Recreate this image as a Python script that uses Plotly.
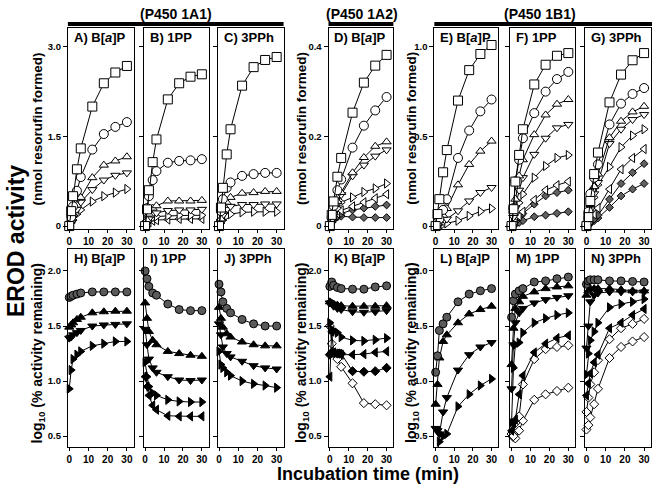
import plotly.graph_objects as go

# ---------------- data ----------------
T = [0, 1, 2, 4, 6, 12, 18, 24, 30]

A_sq = [0, 0.25, 0.5, 0.95, 1.3, 2.0, 2.39, 2.57, 2.68]
A_ci = [0, 0.15, 0.33, 0.59, 0.82, 1.28, 1.54, 1.66, 1.74]
A_up = [0, 0.1, 0.2, 0.35, 0.48, 0.81, 1.02, 1.09, 1.16]
A_dn = [0, 0.07, 0.15, 0.28, 0.4, 0.61, 0.77, 0.85, 0.89]
A_rt = [0, 0.05, 0.1, 0.2, 0.27, 0.41, 0.5, 0.56, 0.62]

B_sq = [0, 0.28, 0.6, 1.07, 1.45, 2.12, 2.39, 2.5, 2.54]
B_ci = [0, 0.3, 0.5, 0.77, 0.92, 1.06, 1.09, 1.1, 1.12]
B_up = [0, 0.1, 0.2, 0.3, 0.34, 0.42, 0.42, 0.42, 0.43]
B_dn = [0, 0.06, 0.12, 0.2, 0.22, 0.26, 0.27, 0.27, 0.28]
B_rt = [0, 0.05, 0.09, 0.14, 0.16, 0.17, 0.18, 0.18, 0.18]
B_lf = [0, 0.03, 0.06, 0.09, 0.1, 0.11, 0.12, 0.12, 0.12]

C_sq = [0, 0.31, 0.64, 1.2, 1.62, 2.35, 2.66, 2.78, 2.83]
C_ci = [0, 0.25, 0.45, 0.64, 0.73, 0.84, 0.87, 0.89, 0.89]
C_up = [0, 0.12, 0.25, 0.4, 0.48, 0.55, 0.56, 0.58, 0.58]
C_dn = [0, 0.08, 0.18, 0.28, 0.33, 0.36, 0.36, 0.37, 0.37]
C_rt = [0, 0.05, 0.1, 0.17, 0.2, 0.23, 0.24, 0.24, 0.24]

D_sq = [0, 0.025, 0.055, 0.11, 0.152, 0.253, 0.32, 0.358, 0.382]
D_ci = [0, 0.02, 0.045, 0.08, 0.104, 0.175, 0.224, 0.258, 0.288]
D_up = [0, 0.015, 0.03, 0.055, 0.075, 0.119, 0.153, 0.178, 0.188]
D_dn = [0, 0.013, 0.028, 0.05, 0.07, 0.112, 0.136, 0.156, 0.17]
D_rt = [0, 0.012, 0.025, 0.04, 0.053, 0.064, 0.076, 0.084, 0.095]
D_lf = [0, 0.01, 0.018, 0.028, 0.035, 0.044, 0.053, 0.062, 0.071]
D_d1 = [0, 0.008, 0.015, 0.022, 0.028, 0.036, 0.04, 0.044, 0.047]
D_d2 = [0, 0.008, 0.015, 0.02, 0.022, 0.02, 0.019, 0.019, 0.019]

E_sq = [0, 0.067, 0.15, 0.30, 0.424, 0.70, 0.87, 0.96, 1.01]
E_ci = [0, 0.02, 0.04, 0.09, 0.15, 0.38, 0.533, 0.64, 0.706]
E_up = [0, 0.015, 0.03, 0.06, 0.098, 0.23, 0.344, 0.418, 0.474]
E_dn = [0, 0.006, 0.012, 0.025, 0.039, 0.085, 0.14, 0.187, 0.215]
E_rt = [0, 0.003, 0.005, 0.01, 0.015, 0.03, 0.057, 0.082, 0.098]

F_sq = [0, 0.094, 0.248, 0.397, 0.54, 0.79, 0.9, 0.95, 0.965]
F_ci = [0, 0.1, 0.25, 0.37, 0.49, 0.63, 0.75, 0.82, 0.86]
F_up = [0, 0.07, 0.15, 0.28, 0.37, 0.51, 0.62, 0.68, 0.706]
F_dn = [0, 0.05, 0.1, 0.2, 0.27, 0.40, 0.49, 0.548, 0.567]
F_rt = [0, 0.03, 0.07, 0.13, 0.178, 0.27, 0.335, 0.38, 0.396]
F_lf = [0, 0.015, 0.03, 0.055, 0.08, 0.146, 0.2, 0.228, 0.248]
F_d1 = [0, 0.012, 0.025, 0.05, 0.07, 0.122, 0.168, 0.187, 0.2]
F_d2 = [0, 0.005, 0.01, 0.02, 0.03, 0.052, 0.061, 0.071, 0.08]

G_sq = [0, 0.05, 0.14, 0.29, 0.41, 0.69, 0.845, 0.925, 0.965]
G_ci = [0, 0.08, 0.18, 0.27, 0.344, 0.567, 0.683, 0.737, 0.77]
G_up = [0, 0.05, 0.12, 0.22, 0.29, 0.493, 0.585, 0.637, 0.668]
G_dn = [0, 0.04, 0.09, 0.18, 0.243, 0.46, 0.54, 0.594, 0.622]
G_rt = [0, 0.04, 0.08, 0.16, 0.23, 0.33, 0.44, 0.505, 0.54]
G_lf = [0, 0.015, 0.03, 0.065, 0.1, 0.206, 0.317, 0.38, 0.43]
G_d1 = [0, 0.01, 0.02, 0.04, 0.06, 0.15, 0.237, 0.298, 0.348]
G_d2 = [0, 0.008, 0.015, 0.03, 0.045, 0.104, 0.168, 0.206, 0.237]

H_ci = [1.76, 1.77, 1.78, 1.79, 1.80, 1.81, 1.81, 1.81, 1.81]
H_up = [1.49, 1.51, 1.53, 1.56, 1.58, 1.62, 1.63, 1.635, 1.635]
H_dn = [1.39, 1.40, 1.42, 1.44, 1.46, 1.50, 1.51, 1.515, 1.52]
H_rt = [0.93, 1.10, 1.20, 1.24, 1.27, 1.32, 1.34, 1.36, 1.36]

I_ci = [2.0, 1.93, 1.86, 1.80, 1.78, 1.70, 1.65, 1.64, 1.64]
I_up = [1.71, 1.57, 1.45, 1.37, 1.33, 1.27, 1.25, 1.235, 1.225]
I_dn = [1.47, 1.33, 1.20, 1.12, 1.08, 1.04, 1.01, 1.005, 1.01]
I_rt = [1.17, 1.04, 0.95, 0.89, 0.87, 0.83, 0.815, 0.81, 0.81]
I_lf = [1.04, 0.95, 0.87, 0.78, 0.74, 0.685, 0.68, 0.68, 0.68]

J_ci = [1.88, 1.81, 1.72, 1.66, 1.62, 1.56, 1.52, 1.50, 1.50]
J_up = [1.67, 1.57, 1.49, 1.43, 1.40, 1.355, 1.33, 1.32, 1.32]
J_dn = [1.52, 1.42, 1.31, 1.25, 1.22, 1.18, 1.14, 1.12, 1.11]
J_rt = [1.27, 1.15, 1.12, 1.08, 1.05, 1.00, 0.975, 0.96, 0.94]

K_ci = [1.86, 1.90, 1.87, 1.85, 1.84, 1.835, 1.835, 1.855, 1.865]
K_up = [1.72, 1.71, 1.70, 1.69, 1.685, 1.68, 1.68, 1.68, 1.685]
K_dn = [1.71, 1.70, 1.68, 1.66, 1.65, 1.63, 1.625, 1.63, 1.64]
K_rt = [1.53, 1.47, 1.45, 1.44, 1.40, 1.37, 1.365, 1.375, 1.39]
K_lf = [1.04, 1.45, 1.26, 1.25, 1.24, 1.24, 1.245, 1.26, 1.27]
K_df = [1.24, 1.26, 1.26, 1.25, 1.25, 1.09, 1.085, 1.09, 1.12]
K_do = [1.50, 1.34, 1.25, 1.20, 1.13, 0.98, 0.80, 0.79, 0.78]

L_ci = [1.08, 1.23, 1.46, 1.52, 1.58, 1.72, 1.79, 1.82, 1.84]
L_up = [0.79, 0.97, 1.21, 1.36, 1.42, 1.53, 1.61, 1.65, 1.68]
L_dn = [0.57, 0.55, 0.52, 0.72, 0.85, 1.10, 1.24, 1.31, 1.35]
L_rt = [0.30, 0.36, 0.45, 0.50, 0.52, 0.77, 0.88, 0.96, 1.02]

M_ci = [1.58, 1.73, 1.79, 1.82, 1.84, 1.90, 1.91, 1.93, 1.945]
M_up = [1.15, 1.48, 1.66, 1.72, 1.77, 1.81, 1.84, 1.855, 1.865]
M_dn = [0.93, 1.33, 1.53, 1.62, 1.66, 1.71, 1.74, 1.76, 1.775]
M_rt = [0.62, 1.12, 1.33, 1.35, 1.44, 1.53, 1.57, 1.60, 1.62]
M_lf = [0.55, 0.62, 0.65, 0.88, 1.05, 1.26, 1.34, 1.39, 1.415]
M_d1 = [0.52, 0.50, 0.62, 0.68, 0.97, 1.20, 1.29, 1.31, 1.325]
M_d2 = [0.52, 0.49, 0.48, 0.55, 0.64, 0.83, 0.88, 0.91, 0.94]

N_ci = [1.88, 1.91, 1.92, 1.92, 1.92, 1.91, 1.91, 1.905, 1.90]
N_up = [1.78, 1.82, 1.84, 1.84, 1.84, 1.84, 1.83, 1.82, 1.82]
N_dn = [1.30, 1.50, 1.72, 1.78, 1.80, 1.81, 1.81, 1.81, 1.81]
N_rt = [1.06, 1.25, 1.37, 1.45, 1.53, 1.67, 1.70, 1.72, 1.745]
N_lf = [0.87, 0.98, 1.07, 1.17, 1.24, 1.48, 1.53, 1.60, 1.655]
N_d1 = [0.72, 0.85, 0.97, 1.08, 1.19, 1.38, 1.48, 1.52, 1.565]
N_d2 = [0.56, 0.60, 0.67, 0.79, 0.93, 1.21, 1.31, 1.36, 1.40]

PANEL_LABELS = ["A) B[<i>a</i>]P", "B) 1PP", "C) 3PPh", "D) B[<i>a</i>]P",
                "E) B[<i>a</i>]P", "F) 1PP", "G) 3PPh",
                "H) B[<i>a</i>]P", "I) 1PP", "J) 3PPh", "K) B[<i>a</i>]P",
                "L) B[<i>a</i>]P", "M) 1PP", "N) 3PPh"]
X_TICKS = [0, 10, 20, 30]
Y_TICKS_1A1 = [0, 1.5, 3.0]
Y_TICKS_1A2 = [0, 0.2, 0.4]
Y_TICKS_1B1 = [0, 0.5, 1.0]
Y_TICKS_LOG = [0.5, 1.0, 1.5, 2.0]

# ---------------- layout helpers ----------------
W, H = 658, 488
FONT = "Liberation Sans, Arial, sans-serif"


def X(p):
    return p / W


def Y(p):
    return 1 - p / H


COLS = [(67, 133), (143, 208), (217, 283), (328, 393), (434, 498), (510, 575), (585, 651)]
TOP_Y = (28, 230)
BOT_Y = (250, 449)

top_style = {
    "sq": dict(symbol="square", size=9, color="white"),
    "ci": dict(symbol="circle", size=9, color="white"),
    "up": dict(symbol="triangle-up", size=8, color="white"),
    "dn": dict(symbol="triangle-down", size=8, color="white"),
    "rt": dict(symbol="triangle-right", size=8, color="white"),
    "lf": dict(symbol="triangle-left", size=8, color="white"),
    "hd": dict(symbol="diamond", size=6, color="#606060"),
}
bot_style = {
    "ci": dict(symbol="circle", size=8, color="#5a5a5a"),
    "up": dict(symbol="triangle-up", size=8, color="black"),
    "dn": dict(symbol="triangle-down", size=8, color="black"),
    "rt": dict(symbol="triangle-right", size=8, color="black"),
    "lf": dict(symbol="triangle-left", size=8, color="black"),
    "df": dict(symbol="diamond", size=7, color="black"),
    "do": dict(symbol="diamond", size=7, color="white"),
}

panels = [
    (0, 0, [(A_rt, "rt"), (A_dn, "dn"), (A_up, "up"), (A_ci, "ci"), (A_sq, "sq")], (-0.05, 3.317), Y_TICKS_1A1, True),
    (1, 0, [(B_lf, "lf"), (B_rt, "rt"), (B_dn, "dn"), (B_up, "up"), (B_ci, "ci"), (B_sq, "sq")], (-0.05, 3.317), Y_TICKS_1A1, False),
    (2, 0, [(C_rt, "rt"), (C_dn, "dn"), (C_up, "up"), (C_ci, "ci"), (C_sq, "sq")], (-0.05, 3.317), Y_TICKS_1A1, False),
    (3, 0, [(D_d2, "hd"), (D_d1, "hd"), (D_lf, "lf"), (D_rt, "rt"), (D_dn, "dn"), (D_up, "up"), (D_ci, "ci"), (D_sq, "sq")], (-0.00667, 0.4422), Y_TICKS_1A2, True),
    (4, 0, [(E_rt, "rt"), (E_dn, "dn"), (E_up, "up"), (E_ci, "ci"), (E_sq, "sq")], (-0.0167, 1.1056), Y_TICKS_1B1, True),
    (5, 0, [(F_d2, "hd"), (F_d1, "hd"), (F_lf, "lf"), (F_rt, "rt"), (F_dn, "dn"), (F_up, "up"), (F_ci, "ci"), (F_sq, "sq")], (-0.0167, 1.1056), Y_TICKS_1B1, False),
    (6, 0, [(G_d2, "hd"), (G_d1, "hd"), (G_lf, "lf"), (G_rt, "rt"), (G_dn, "dn"), (G_up, "up"), (G_ci, "ci"), (G_sq, "sq")], (-0.0167, 1.1056), Y_TICKS_1B1, False),
    (0, 1, [(H_rt, "rt"), (H_dn, "dn"), (H_up, "up"), (H_ci, "ci")], (0.40, 2.2), Y_TICKS_LOG, True),
    (1, 1, [(I_lf, "lf"), (I_rt, "rt"), (I_dn, "dn"), (I_up, "up"), (I_ci, "ci")], (0.40, 2.2), Y_TICKS_LOG, False),
    (2, 1, [(J_rt, "rt"), (J_dn, "dn"), (J_up, "up"), (J_ci, "ci")], (0.40, 2.2), Y_TICKS_LOG, False),
    (3, 1, [(K_do, "do"), (K_df, "df"), (K_lf, "lf"), (K_rt, "rt"), (K_dn, "dn"), (K_up, "up"), (K_ci, "ci")], (0.40, 2.2), Y_TICKS_LOG, True),
    (4, 1, [(L_rt, "rt"), (L_dn, "dn"), (L_up, "up"), (L_ci, "ci")], (0.40, 2.2), Y_TICKS_LOG, True),
    (5, 1, [(M_d2, "do"), (M_d1, "do"), (M_lf, "lf"), (M_rt, "rt"), (M_dn, "dn"), (M_up, "up"), (M_ci, "ci")], (0.40, 2.2), Y_TICKS_LOG, False),
    (6, 1, [(N_d2, "do"), (N_d1, "do"), (N_lf, "lf"), (N_rt, "rt"), (N_dn, "dn"), (N_up, "up"), (N_ci, "ci")], (0.40, 2.2), Y_TICKS_LOG, False),
]

fig = go.Figure()
layout = dict(
    width=W, height=H, margin=dict(l=0, r=0, t=0, b=0),
    paper_bgcolor="white", plot_bgcolor="white", showlegend=False,
    font=dict(family=FONT, color="black"),
)
annotations = []
shapes = []

for k, (col, row, series, yr, yt, ylab) in enumerate(panels, start=1):
    xa = "x" if k == 1 else f"x{k}"
    ya = "y" if k == 1 else f"y{k}"
    x0, x1 = COLS[col]
    y0, y1 = TOP_Y if row == 0 else BOT_Y
    styles = top_style if row == 0 else bot_style
    for vals, key in series:
        st = styles[key]
        in_range = all(yr[0] <= v <= yr[1] for v in vals)
        fig.add_trace(go.Scatter(
            x=T, y=vals, mode="lines+markers", xaxis=xa, yaxis=ya,
            line=dict(color="black", width=1),
            marker=dict(symbol=st["symbol"], size=st["size"], color=st["color"],
                        line=dict(color="black", width=1)),
            cliponaxis=not in_range,
            hoverinfo="skip",
        ))
    axname_x = "xaxis" if k == 1 else f"xaxis{k}"
    axname_y = "yaxis" if k == 1 else f"yaxis{k}"
    layout[axname_x] = dict(
        domain=[X(x0), X(x1)], anchor=ya, range=[-0.7, 33.6],
        tickvals=X_TICKS, ticks="outside", ticklen=3, tickwidth=1, tickcolor="black",
        showline=True, mirror=True, linecolor="black", linewidth=1,
        showgrid=False, zeroline=False, fixedrange=True,
        tickfont=dict(size=10, family=FONT, color="black", weight="bold"),
    )
    layout[axname_y] = dict(
        domain=[Y(y1), Y(y0)], anchor=xa, range=list(yr),
        tickvals=yt, ticktext=[("0" if v == 0 else f"{v:.1f}") for v in yt],
        showticklabels=ylab,
        ticks="outside", ticklen=4, tickwidth=1, tickcolor="black",
        showline=True, mirror=True, linecolor="black", linewidth=1,
        showgrid=False, zeroline=False, fixedrange=True,
        tickfont=dict(size=9.5, family=FONT, color="black", weight="bold"),
    )
    annotations.append(dict(
        text=PANEL_LABELS[k - 1], xref="paper", yref="paper",
        x=X(x0 + 4), y=Y(y0 + 10), xanchor="left", yanchor="middle",
        showarrow=False, font=dict(size=13, family=FONT, color="black", weight="bold"),
    ))

for text, cx, bx0, bx1 in [("(P450 1A1)", 175, 67, 283),
                           ("(P450 1A2)", 362, 328, 393),
                           ("(P450 1B1)", 540, 434, 652)]:
    annotations.append(dict(text=text, xref="paper", yref="paper", x=X(cx), y=Y(14),
                            xanchor="center", yanchor="middle", showarrow=False,
                            font=dict(size=14, family=FONT, color="black", weight="bold")))
    shapes.append(dict(type="rect", xref="paper", yref="paper", x0=X(bx0), x1=X(bx1),
                       y0=Y(26), y1=Y(22), fillcolor="black", line=dict(width=0)))

for cx in (37, 301, 411):
    annotations.append(dict(text="(nmol resorufin formed)", xref="paper", yref="paper",
                            x=X(cx), y=Y(129), textangle=-90, xanchor="center", yanchor="middle",
                            showarrow=False, font=dict(size=13.5, family=FONT, color="black", weight="bold")))
    annotations.append(dict(text="log<sub>10</sub> (% activity remaining)", xref="paper", yref="paper",
                            x=X(cx), y=Y(354), textangle=-90, xanchor="center", yanchor="middle",
                            showarrow=False, font=dict(size=14, family=FONT, color="black", weight="bold")))

annotations.append(dict(text="EROD activity", xref="paper", yref="paper", x=X(15), y=Y(242),
                        textangle=-90, xanchor="center", yanchor="middle", showarrow=False,
                        font=dict(size=23, family=FONT, color="black", weight="bold")))
annotations.append(dict(text="Incubation time (min)", xref="paper", yref="paper", x=X(368), y=Y(476),
                        xanchor="center", yanchor="middle", showarrow=False,
                        font=dict(size=18, family=FONT, color="black", weight="bold")))

layout["annotations"] = annotations
layout["shapes"] = shapes
fig.update_layout(**layout)
fig.write_html(
    "out.html",
    config={"displayModeBar": False},
    post_script="document.body.style.margin='0';document.body.style.overflow='hidden';",
)
